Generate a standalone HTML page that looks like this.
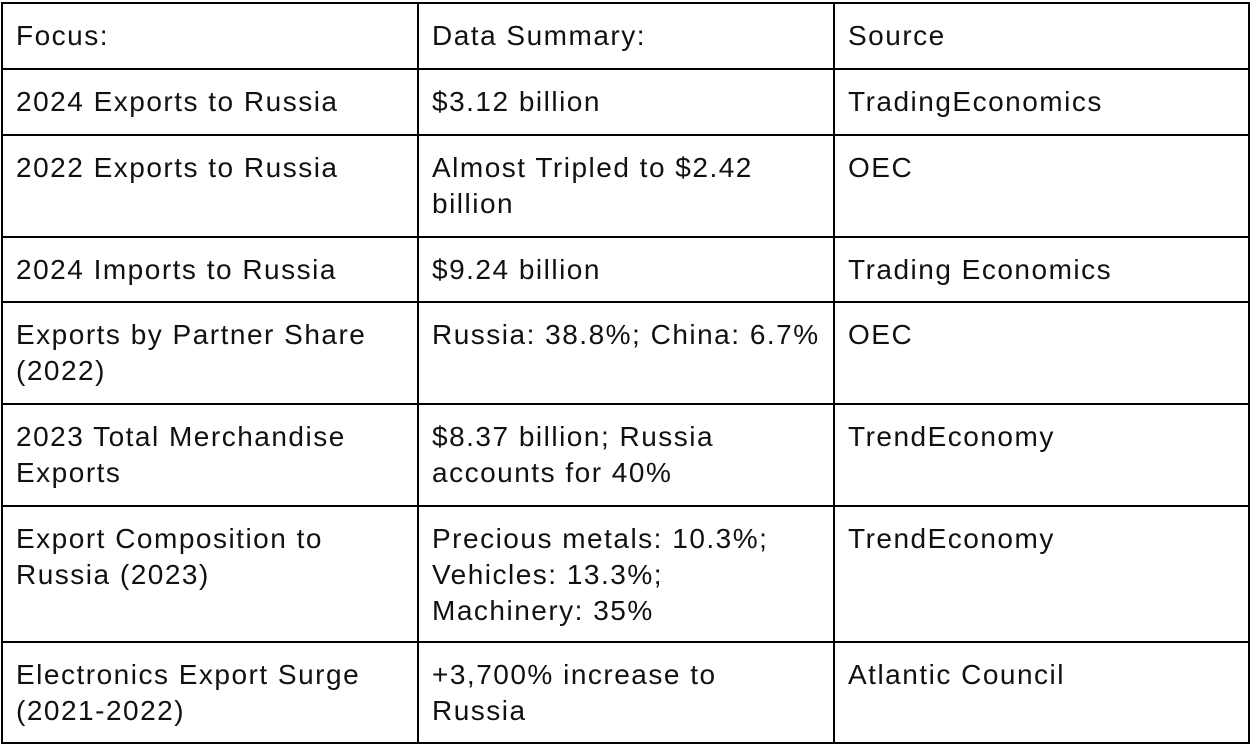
<!DOCTYPE html>
<html>
<head>
<meta charset="utf-8">
<style>
  html,body{margin:0;padding:0;background:#fff;}
  body{width:1250px;height:744px;overflow:hidden;position:relative;}
  table{position:absolute;left:1px;top:2px;border-collapse:collapse;
    font-family:"Liberation Sans",sans-serif;font-size:28px;letter-spacing:1.5px;color:#111;}
  td{border:2px solid #000;vertical-align:top;padding:14px 10px 0 13px;line-height:36px;box-sizing:border-box;white-space:nowrap;}
  col.c1{width:416px;} col.c2{width:416px;} col.c3{width:415px;}
</style>
</head>
<body>
<table>
  <colgroup><col class="c1"><col class="c2"><col class="c3"></colgroup>
  <tr style="height:66px">
    <td>Focus:</td>
    <td>Data Summary:</td>
    <td>Source</td>
  </tr>
  <tr style="height:66px">
    <td>2024 Exports to Russia</td>
    <td>$3.12 billion</td>
    <td>TradingEconomics</td>
  </tr>
  <tr style="height:102px">
    <td>2022 Exports to Russia</td>
    <td>Almost Tripled to $2.42<br>billion</td>
    <td>OEC</td>
  </tr>
  <tr style="height:65px">
    <td>2024 Imports to Russia</td>
    <td>$9.24 billion</td>
    <td>Trading Economics</td>
  </tr>
  <tr style="height:102px">
    <td>Exports by Partner Share<br>(2022)</td>
    <td>Russia: 38.8%; China: 6.7%</td>
    <td>OEC</td>
  </tr>
  <tr style="height:102px">
    <td>2023 Total Merchandise<br>Exports</td>
    <td>$8.37 billion; Russia<br>accounts for 40%</td>
    <td>TrendEconomy</td>
  </tr>
  <tr style="height:136px">
    <td>Export Composition to<br>Russia (2023)</td>
    <td>Precious metals: 10.3%;<br>Vehicles: 13.3%;<br>Machinery: 35%</td>
    <td>TrendEconomy</td>
  </tr>
  <tr style="height:101px">
    <td>Electronics Export Surge<br>(2021-2022)</td>
    <td>+3,700% increase to<br>Russia</td>
    <td>Atlantic Council</td>
  </tr>
</table>
</body>
</html>
